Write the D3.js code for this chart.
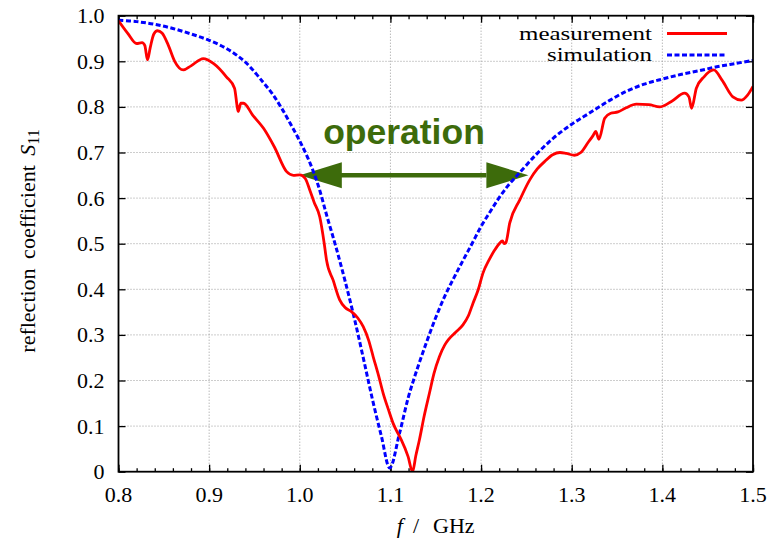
<!DOCTYPE html>
<html><head><meta charset="utf-8">
<script src="https://cdn.jsdelivr.net/npm/d3@7"></script>
<style>
body{margin:0;background:#fff}svg{display:block}
.serif{font-family:"Liberation Serif","Times New Roman",Tinos,Times,"DejaVu Serif","Noto Serif",serif}
.sans{font-family:"Liberation Sans",Arial,Arimo,Helvetica,sans-serif}
</style>
</head><body>
<svg id="chart" width="784" height="538"></svg>
<script>
const measX = [0.800,0.810,0.820,0.826,0.829,0.832,0.835,0.839,0.843,0.848,0.855,0.862,0.8715,0.880,0.8935,0.905,0.919,0.928,0.931,0.932,0.935,0.938,0.948,0.960,0.972,0.9855,0.993,1.000,1.006,1.011,1.016,1.022,1.027,1.0295,1.0368,1.044,1.050,1.057,1.064,1.070,1.076,1.081,1.087,1.092,1.098,1.103,1.108,1.112,1.1195,1.1244,1.128,1.132,1.137,1.143,1.148,1.154,1.160,1.165,1.172,1.180,1.186,1.191,1.197,1.202,1.209,1.215,1.220,1.2236,1.2255,1.2273,1.2316,1.2427,1.2537,1.262,1.270,1.279,1.287,1.294,1.303,1.310,1.318,1.3235,1.3265,1.330,1.3364,1.343,1.351,1.360,1.3713,1.385,1.397,1.410,1.4246,1.4293,1.4323,1.4375,1.446,1.4566,1.466,1.4778,1.487,1.494,1.500];
const measY = [0.989,0.962,0.939,0.941,0.935,0.903,0.930,0.960,0.967,0.962,0.935,0.900,0.881,0.890,0.906,0.895,0.866,0.841,0.800,0.790,0.808,0.808,0.782,0.753,0.712,0.658,0.650,0.651,0.643,0.618,0.590,0.559,0.500,0.464,0.420,0.377,0.360,0.351,0.337,0.318,0.288,0.252,0.210,0.172,0.135,0.106,0.085,0.070,0.033,0.000,0.035,0.070,0.120,0.172,0.215,0.252,0.278,0.292,0.306,0.322,0.342,0.369,0.400,0.435,0.465,0.486,0.500,0.506,0.500,0.502,0.545,0.596,0.640,0.664,0.680,0.695,0.700,0.698,0.694,0.700,0.722,0.737,0.746,0.729,0.775,0.786,0.789,0.798,0.806,0.805,0.800,0.812,0.830,0.822,0.797,0.841,0.866,0.881,0.858,0.822,0.815,0.826,0.845];
const simX = [0.80,0.82,0.84,0.86,0.88,0.90,0.92,0.94,0.96,0.97,0.98,0.99,1.00,1.01,1.02,1.03,1.04,1.05,1.06,1.07,1.08,1.09,1.0993,1.11,1.12,1.13,1.14,1.15,1.16,1.17,1.18,1.19,1.20,1.21,1.22,1.23,1.24,1.26,1.28,1.30,1.32,1.34,1.36,1.38,1.40,1.42,1.44,1.46,1.48,1.50];
const simY = [0.990,0.987,0.981,0.972,0.960,0.946,0.927,0.898,0.853,0.828,0.797,0.762,0.725,0.683,0.630,0.560,0.492,0.418,0.338,0.250,0.160,0.078,0.008,0.084,0.165,0.228,0.285,0.338,0.385,0.425,0.463,0.500,0.538,0.570,0.601,0.628,0.650,0.694,0.732,0.762,0.787,0.812,0.834,0.850,0.861,0.871,0.879,0.888,0.895,0.902];
const xTicks = [0.8,0.9,1.0,1.1,1.2,1.3,1.4,1.5];
const yTicks = [0,0.1,0.2,0.3,0.4,0.5,0.6,0.7,0.8,0.9,1.0];
const seriesNames = ["measurement","simulation"];
const annotText = "operation";
const arrowFrom = 1.0, arrowTo = 1.25, arrowLevel = 0.65;

const svg = d3.select("#chart");
const L = 118.5, R = 753, T = 15.7, B = 471.7;
const x = d3.scaleLinear().domain([0.8,1.5]).range([L,R]);
const y = d3.scaleLinear().domain([0,1]).range([B,T]);
const green = "#3d6b0b";

// grid
const grid = svg.append("g").attr("stroke","#9a9a9a").attr("stroke-width",1).attr("stroke-dasharray","1,2");
xTicks.slice(1,-1).forEach(t=>grid.append("line").attr("x1",x(t)).attr("x2",x(t)).attr("y1",T).attr("y2",B));
yTicks.slice(1,-1).forEach(t=>grid.append("line").attr("x1",L).attr("x2",R).attr("y1",y(t)).attr("y2",y(t)));

// ticks (inward)
const minorX = d3.range(0.8,1.5001,0.02);
function styleAx(g){ g.select(".domain").remove(); g.selectAll("line").attr("stroke","#000").attr("stroke-width",1.3); g.selectAll("text").remove(); }
svg.append("g").attr("transform",`translate(0,${B})`).call(d3.axisBottom(x).tickValues(minorX).tickSize(-3.5)).call(styleAx);
svg.append("g").attr("transform",`translate(0,${T})`).call(d3.axisTop(x).tickValues(minorX).tickSize(-3.5)).call(styleAx);
svg.append("g").attr("transform",`translate(0,${B})`).call(d3.axisBottom(x).tickValues(xTicks).tickSize(-7)).call(styleAx);
svg.append("g").attr("transform",`translate(0,${T})`).call(d3.axisTop(x).tickValues(xTicks).tickSize(-7)).call(styleAx);
svg.append("g").attr("transform",`translate(${L},0)`).call(d3.axisLeft(y).tickValues(yTicks).tickSize(-7)).call(styleAx);
svg.append("g").attr("transform",`translate(${R},0)`).call(d3.axisRight(y).tickValues(yTicks).tickSize(-7)).call(styleAx);

// tick labels
svg.append("g").attr("class","serif").selectAll("text").data(xTicks).join("text")
  .attr("x",d=>x(d)).attr("y",501.5).attr("text-anchor","middle")
  .attr("font-size",22).text(d=>d.toFixed(1));
svg.append("g").attr("class","serif").selectAll("text").data(yTicks).join("text")
  .attr("x",104.5).attr("y",d=>y(d)).attr("dy","0.34em").attr("text-anchor","end")
  .attr("font-size",22).text(d=>d===0?"0":d.toFixed(1));

// axis labels
const xl = svg.append("text").attr("class","serif").attr("x",(L+R)/2).attr("y",533).attr("text-anchor","middle")
  .attr("font-size",22);
xl.append("tspan").attr("font-style","italic").text("f");
xl.append("tspan").attr("dx",10).text("/");
xl.append("tspan").attr("dx",14).text("GHz");
const yl = svg.append("text").attr("class","serif").attr("transform",`translate(35,${241}) rotate(-90)`).attr("text-anchor","middle")
  .attr("font-size",22).attr("word-spacing",4);
yl.append("tspan").text("reflection coefficient ");
yl.append("tspan").attr("font-style","italic").text("S");
yl.append("tspan").attr("font-size",16).attr("dy",4).text("11");

// arrow annotation
const ay = y(arrowLevel), hl = 42, hw = 13;
svg.append("line").attr("x1",x(arrowFrom)+hl-2).attr("x2",x(arrowTo)-hl+2).attr("y1",ay).attr("y2",ay)
  .attr("stroke",green).attr("stroke-width",4.5);
svg.append("path").attr("fill",green)
  .attr("d",`M${x(arrowFrom)},${ay}L${x(arrowFrom)+hl},${ay-hw}L${x(arrowFrom)+hl},${ay+hw}Z`);
svg.append("path").attr("fill",green)
  .attr("d",`M${x(arrowTo)+2},${ay}L${x(arrowTo)+2-hl},${ay-hw}L${x(arrowTo)+2-hl},${ay+hw}Z`);
svg.append("text").attr("class","sans").attr("x",404).attr("y",143.5).attr("text-anchor","middle")
  .attr("font-weight","bold").attr("font-size",35.5).attr("fill",green).text(annotText);

// curves
svg.append("clipPath").attr("id","clp").append("rect").attr("x",L).attr("y",T-3).attr("width",R-L).attr("height",B-T+3);
const simLine = d3.line().x(d=>x(d[0])).y(d=>y(d[1])).curve(d3.curveCatmullRom.alpha(0.5));
const measLine = d3.line().x(d=>x(d[0])).y(d=>y(d[1])).curve(d3.curveMonotoneX);
svg.append("path").datum(simX.map((v,i)=>[v,simY[i]])).attr("d",simLine).attr("fill","none")
  .attr("stroke","#0000ff").attr("stroke-width",3).attr("stroke-dasharray","5,2.5").attr("clip-path","url(#clp)");
svg.append("path").datum(measX.map((v,i)=>[v,measY[i]])).attr("d",measLine).attr("fill","none")
  .attr("stroke","#ff0000").attr("stroke-width",2.8).attr("stroke-linejoin","round").attr("clip-path","url(#clp)");

// frame
svg.append("rect").attr("x",L).attr("y",T).attr("width",R-L).attr("height",B-T)
  .attr("fill","none").attr("stroke","#000").attr("stroke-width",1.8);

// legend
const leg = [{name:seriesNames[0],color:"#ff0000",dash:null,y:33.5,w:133},{name:seriesNames[1],color:"#0000ff",dash:"5,2.5",y:55,w:105}];
leg.forEach(d=>{
  svg.append("text").attr("class","serif").attr("x",652).attr("y",d.y).attr("dy","0.33em").attr("text-anchor","end")
    .attr("font-size",19).attr("textLength",d.w).attr("lengthAdjust","spacingAndGlyphs").text(d.name);
  svg.append("line").attr("x1",667).attr("x2",727).attr("y1",d.y).attr("y2",d.y)
    .attr("stroke",d.color).attr("stroke-width",d.dash?3:2.8).attr("stroke-dasharray",d.dash);
});
</script>
</body></html>
